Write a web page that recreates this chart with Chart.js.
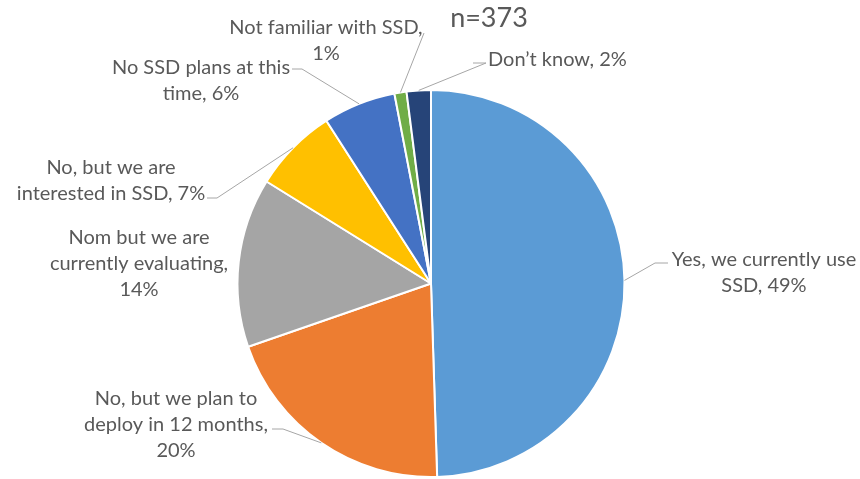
<!DOCTYPE html>
<html>
<head>
<meta charset="utf-8">
<script src="https://cdn.jsdelivr.net/npm/chart.js@4.4.0/dist/chart.umd.min.js"></script>
<style>
  html, body { margin: 0; padding: 0; background: #fff; }
  #wrap { width: 860px; height: 479px; position: relative; }
</style>
</head>
<body>
<div id="wrap"><canvas id="pie"></canvas></div>
<script>
// Survey categories (wrapped as in the original labels)
const categories = [
    ['Yes, we currently use', 'SSD'],
    ['No, but we plan to', 'deploy in 12 months'],
    ['Nom but we are', 'currently evaluating'],
    ['No, but we are', 'interested in SSD'],
    ['No SSD plans at this', 'time'],
    ['Not familiar with SSD'],
    ['Don\u2019t know']
];
const shares = [49, 20, 14, 7, 6, 1, 2];
const colors = ['#5B9BD5', '#ED7D31', '#A5A5A5', '#FFC000', '#4472C4', '#70AD47', '#264478'];
const sampleNote = 'n=373';

// Label placement: text centre x, first line y, elbow point, line end
const labelLayout = [
    { x: 764, y: 260, align: 'center', ownLine: false, elbow: [655, 263], end: [668, 263] },
    { x: 176, y: 399, align: 'center', ownLine: true, elbow: [283, 429], end: [272, 429] },
    { x: 139, y: 238, align: 'center', ownLine: true, elbow: null, end: null },
    { x: 111, y: 168, align: 'center', ownLine: false, elbow: [217, 198], end: [207, 198] },
    { x: 201, y: 68, align: 'center', ownLine: false, elbow: [302, 69], end: [292, 69] },
    { x: 326, y: 28, align: 'center', ownLine: true, elbow: null, end: [424, 33] },
    { x: 488, y: 60, align: 'left', ownLine: false, elbow: [486, 63], end: [473, 63] }
];
const lineHeight = 26;

const labelPlugin = {
    id: 'pieLabels',
    afterDraw(chart) {
        const ctx = chart.ctx;
        const arcs = chart.getDatasetMeta(0).data;
        ctx.save();
        ctx.font = '20px Lato';
        ctx.fillStyle = '#595959';
        ctx.textBaseline = 'middle';
        arcs.forEach((arc, i) => {
            const lay = labelLayout[i];
            const p = arc.getProps(['x', 'y', 'startAngle', 'endAngle', 'outerRadius'], true);
            const mid = (p.startAngle + p.endAngle) / 2;
            const ex = p.x + Math.cos(mid) * p.outerRadius;
            const ey = p.y + Math.sin(mid) * p.outerRadius;
            if (lay.end) {
                ctx.strokeStyle = '#A6A6A6';
                ctx.lineWidth = 1;
                ctx.beginPath();
                ctx.moveTo(ex, ey);
                if (lay.elbow) ctx.lineTo(lay.elbow[0], lay.elbow[1]);
                ctx.lineTo(lay.end[0], lay.end[1]);
                ctx.stroke();
            }
            const pct = shares[i] + '%';
            const lines = categories[i].slice();
            if (lay.ownLine) {
                lines[lines.length - 1] += ',';
                lines.push(pct);
            } else {
                lines[lines.length - 1] += ', ' + pct;
            }
            ctx.textAlign = lay.align;
            lines.forEach((t, k) => ctx.fillText(t, lay.x, lay.y + k * lineHeight));
        });
        ctx.font = '27px Lato';
        ctx.textAlign = 'center';
        ctx.fillText(sampleNote, 489, 18);
        ctx.restore();
    }
};

new Chart(document.getElementById('pie'), {
    type: 'pie',
    data: {
        labels: categories.map(c => c.join(' ')),
        datasets: [{
            data: shares,
            backgroundColor: colors,
            borderColor: '#ffffff',
            borderWidth: 2
        }]
    },
    options: {
        responsive: true,
        maintainAspectRatio: false,
        animation: false,
        layout: { padding: { top: 89, bottom: 1, left: 2, right: 0 } },
        plugins: {
            legend: { display: false },
            tooltip: { enabled: false }
        }
    },
    plugins: [labelPlugin]
});
</script>
</body>
</html>
